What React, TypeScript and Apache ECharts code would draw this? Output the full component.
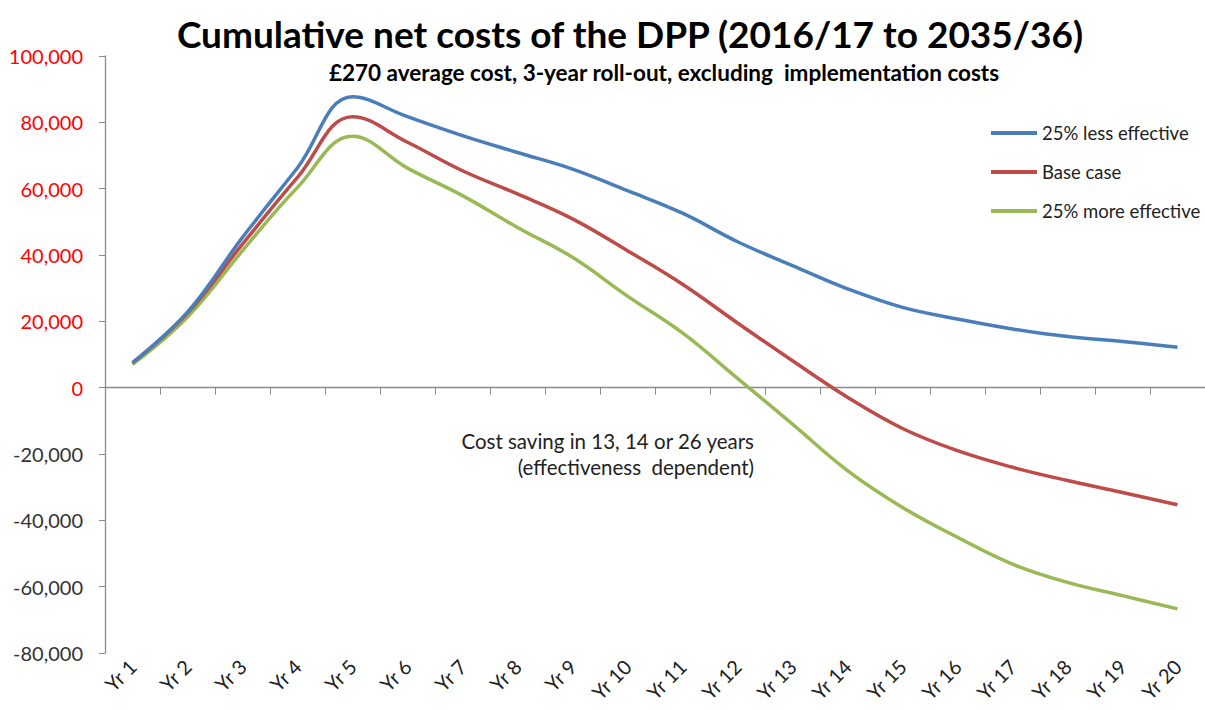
import React, { useEffect, useRef } from "react";
import * as echarts from "echarts";

// Years of the programme
const years = [
  "Yr 1", "Yr 2", "Yr 3", "Yr 4", "Yr 5", "Yr 6", "Yr 7", "Yr 8", "Yr 9", "Yr 10",
  "Yr 11", "Yr 12", "Yr 13", "Yr 14", "Yr 15", "Yr 16", "Yr 17", "Yr 18", "Yr 19", "Yr 20",
];

// Cumulative net cost per scenario
const lessEffective = [
  7500, 22800, 45300, 66300, 87700, 81700, 76000, 70900, 65900, 59400,
  52600, 44000, 36800, 29800, 24200, 20700, 17700, 15400, 13900, 12200,
];
const baseCase = [
  7500, 22500, 43300, 63400, 81700, 74000, 65400, 58400, 50900, 41300,
  31200, 19500, 8100, -2900, -12300, -19000, -24000, -28000, -31600, -35300,
];
const moreEffective = [
  7000, 21300, 41300, 60400, 75800, 66200, 57900, 48300, 39300, 27600,
  16500, 2800, -11000, -25000, -36100, -45100, -53200, -58700, -62700, -66700,
];

const seriesNames = ["25% less effective", "Base case", "25% more effective"];
const seriesColors = ["#4A7EBB", "#BE4B48", "#98B954"];

const titleText = "Cumulative net costs of the DPP (2016/17 to 2035/36)";
const subtitleText = "£270 average cost, 3-year roll-out, excluding  implementation costs";
const noteLines = ["Cost saving in 13, 14 or 26 years", "(effectiveness  dependent)"];

const FONT = "Lato, 'Open Sans', sans-serif";

export default function App() {
  const ref = useRef<HTMLDivElement>(null);

  useEffect(() => {
    if (!ref.current) return;
    const chart = echarts.init(ref.current, null, { renderer: "svg" });
    const values = [lessEffective, baseCase, moreEffective];

    chart.setOption({
      animation: false,
      backgroundColor: "#ffffff",
      textStyle: { fontFamily: FONT },
      grid: { left: 105, top: 56, width: 1100, height: 597, containLabel: false },
      legend: {
        orient: "vertical",
        left: 986,
        top: 117,
        itemWidth: 46,
        itemHeight: 4,
        itemGap: 17,
        icon: "rect",
        textStyle: { fontFamily: FONT, fontSize: 18.5, color: "#222", lineHeight: 22 },
        data: seriesNames,
      },
      xAxis: [
        {
          type: "category",
          data: years,
          boundaryGap: true,
          axisLine: { onZero: true, lineStyle: { color: "#8a8a8a", width: 1.3 } },
          axisTick: { show: true, length: 7, alignWithLabel: false, lineStyle: { color: "#8a8a8a" } },
          axisLabel: { show: false },
          splitLine: { show: false },
        },
        {
          type: "category",
          data: years,
          position: "bottom",
          boundaryGap: true,
          axisLine: { show: false },
          axisTick: { show: false },
          axisLabel: {
            rotate: 45,
            margin: 10,
            fontFamily: FONT,
            fontSize: 20,
            color: "#222",
            interval: 0,
          },
        },
      ],
      yAxis: {
        type: "value",
        min: -80000,
        max: 100000,
        interval: 20000,
        axisLine: { show: true, lineStyle: { color: "#8a8a8a", width: 1.3 } },
        axisTick: { show: true, length: 6, lineStyle: { color: "#8a8a8a" } },
        splitLine: { show: false },
        axisLabel: {
          margin: 22,
          fontFamily: FONT,
          fontSize: 20,
          color: (v: any) => (Number(v) >= 0 ? "#FF0000" : "#333333"),
          formatter: (v: number) => v.toLocaleString("en-US"),
        },
      },
      series: seriesNames.map((name, i) => ({
        name,
        type: "line",
        data: values[i],
        xAxisIndex: 0,
        smooth: 0.4,
        showSymbol: false,
        symbol: "none",
        lineStyle: { color: seriesColors[i], width: 3.5 },
        itemStyle: { color: seriesColors[i] },
        z: 3 - i,
      })),
      graphic: [
        {
          type: "text",
          x: 630,
          y: 33,
          style: {
            text: titleText,
            font: `bold 37px ${FONT}`,
            fill: "#000",
            textAlign: "center",
            textVerticalAlign: "middle",
          },
        },
        {
          type: "text",
          x: 664,
          y: 72,
          style: {
            text: subtitleText,
            font: `bold 22.5px ${FONT}`,
            fill: "#000",
            textAlign: "center",
            textVerticalAlign: "middle",
          },
        },
        {
          type: "text",
          x: 754,
          y: 441,
          style: {
            text: noteLines[0],
            font: `20.5px ${FONT}`,
            fill: "#222",
            textAlign: "right",
            textVerticalAlign: "middle",
          },
        },
        {
          type: "text",
          x: 754,
          y: 467,
          style: {
            text: noteLines[1],
            font: `20.5px ${FONT}`,
            fill: "#222",
            textAlign: "right",
            textVerticalAlign: "middle",
          },
        },
      ],
    });

    return () => chart.dispose();
  }, []);

  return (
    <div
      ref={ref}
      style={{ position: "absolute", left: 0, top: 0, width: 1205, height: 711, background: "#fff" }}
    />
  );
}
